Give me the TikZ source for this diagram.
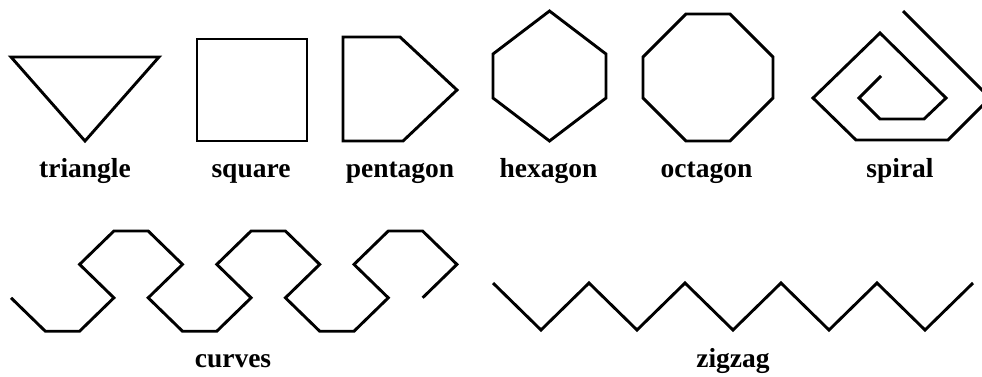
\documentclass[tikz,border=0pt]{standalone}
\usepackage{fontspec}
\setmainfont{Liberation Serif}
\begin{document}
\begin{tikzpicture}[x=1pt,y=-1pt,
  shapeline/.style={draw=black,line width=2.9pt,line join=miter,line cap=butt},
  lbl/.style={font=\fontsize{27.5}{30}\selectfont\bfseries,anchor=base,inner sep=0pt}]
\useasboundingbox (0,0) rectangle (982,376);
\clip (0,0) rectangle (982,376);
% triangle
\draw[shapeline] (11,57) -- (159,57) -- (85,141) -- cycle;
% square
\draw[shapeline] (197,39) rectangle (307,141);
% pentagon
\draw[shapeline] (343,37) -- (400,37) -- (457,90) -- (403,141) -- (343,141) -- cycle;
% hexagon
\draw[shapeline] (549.5,11) -- (606,54) -- (606,98) -- (549.5,141) -- (493,98) -- (493,54) -- cycle;
% octagon
\draw[shapeline] (686,14) -- (730,14) -- (773,57) -- (773,98) -- (730,141) -- (686,141) -- (643,98) -- (643,57) -- cycle;
% spiral
\draw[shapeline] (903,11) -- (990,98) -- (948,140) -- (856,140) -- (813,98) -- (880,33) -- (946,98) -- (924,119) -- (880,119) -- (859,98) -- (881,76);
% curves
\begin{scope}[shift={(11,231)},x=34.3pt,y=-33.4pt]
\draw[shapeline] (0,2) -- (1,3) -- (2,3) -- (3,2) -- (2,1) -- (3,0) -- (4,0) -- (5,1) -- (4,2) -- (5,3) -- (6,3) -- (7,2) -- (6,1) -- (7,0) -- (8,0) -- (9,1) -- (8,2) -- (9,3) -- (10,3) -- (11,2) -- (10,1) -- (11,0) -- (12,0) -- (13,1) -- (12,2);
\end{scope}
% zigzag
\draw[shapeline] (493,283) -- (541,330) -- (589,283) -- (637,330) -- (685,283) -- (733,330) -- (781,283) -- (829,330) -- (877,283) -- (925,330) -- (973,283);
% labels
\node[lbl] (ltri) at (85,177) {triangle};
\node[lbl] (lsq) at (251,177) {square};
\node[lbl] (lpent) at (400,177) {pentagon};
\node[lbl] (lhex) at (548.5,177) {hexagon};
\node[lbl] (loct) at (706.5,177) {octagon};
\node[lbl] (lspi) at (900,177) {spiral};
\node[lbl] (lcur) at (233,367) {curves};
\node[lbl] (lzig) at (733,367) {zigzag};
\end{tikzpicture}
\end{document}
